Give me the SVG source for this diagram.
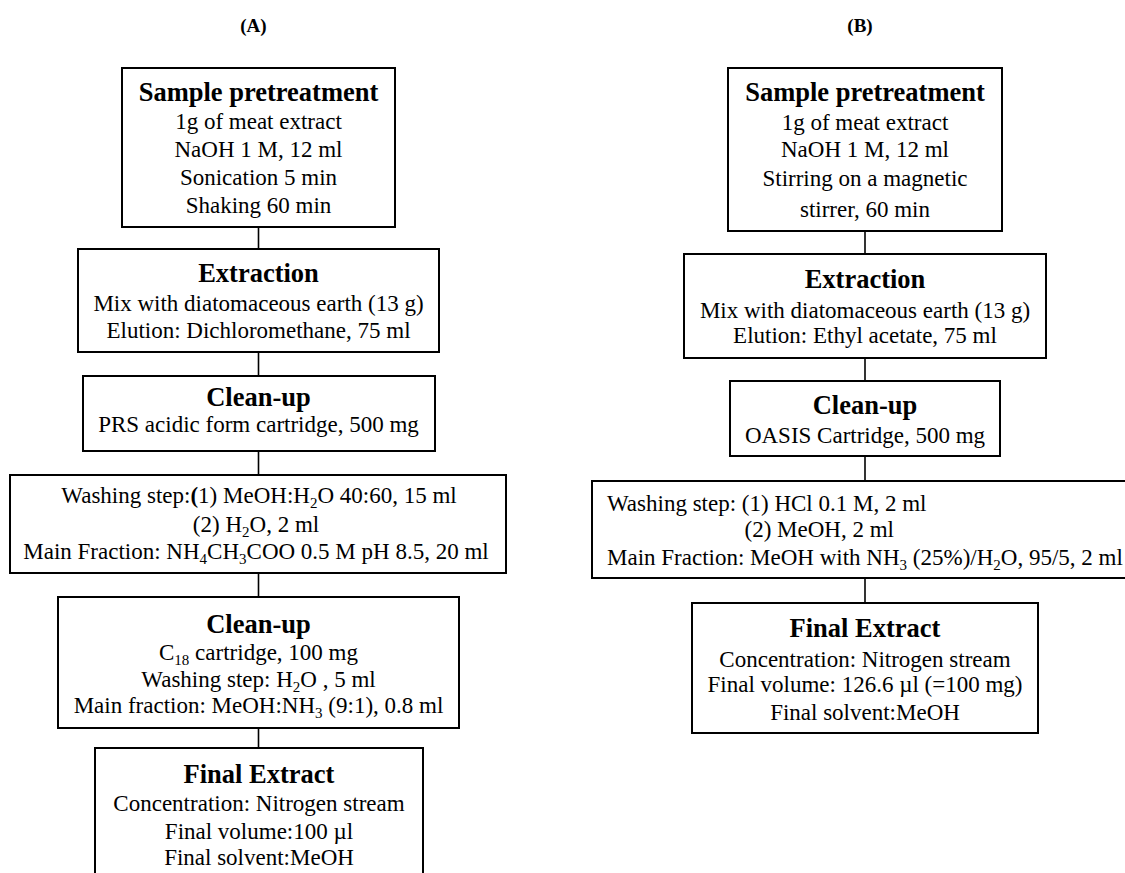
<svg xmlns="http://www.w3.org/2000/svg" width="1125" height="873" viewBox="0 0 1125 873">
<style>
text{font-family:"Liberation Serif","Times New Roman",serif;fill:#000}
.t{font-size:26.5px;font-weight:bold;text-anchor:middle}
.b{font-size:23px;text-anchor:middle}
.l{font-size:23px}
.h{font-size:19px;font-weight:bold;text-anchor:middle}
.s{font-size:15px}
.box{fill:#fff;stroke:#000;stroke-width:2}
.c{stroke:#000;stroke-width:1.6;fill:none}
</style>
<rect width="1125" height="873" fill="#fff"/>
<text class="h" x="253.5" y="32">(A)</text>
<text class="h" x="860" y="32">(B)</text>
<g id="connectors">
<line class="c" x1="258.5" y1="227" x2="258.5" y2="249"/>
<line class="c" x1="258.5" y1="352" x2="258.5" y2="376"/>
<line class="c" x1="258.5" y1="451" x2="258.5" y2="475"/>
<line class="c" x1="258.5" y1="573" x2="258.5" y2="597"/>
<line class="c" x1="258.5" y1="728" x2="258.5" y2="748"/>
<line class="c" x1="865" y1="231" x2="865" y2="254"/>
<line class="c" x1="865" y1="358" x2="865" y2="381"/>
<line class="c" x1="865" y1="456" x2="865" y2="481"/>
<line class="c" x1="865" y1="578" x2="865" y2="603"/>
</g>
<g id="a1">
<rect class="box" x="122" y="68" width="273" height="159"/>
<text class="t" x="258.5" y="101">Sample pretreatment</text>
<text class="b" x="258.5" y="129">1g of meat extract</text>
<text class="b" x="258.5" y="157">NaOH 1 M, 12 ml</text>
<text class="b" x="258.5" y="185">Sonication 5 min</text>
<text class="b" x="258.5" y="213">Shaking 60 min</text>
</g>
<g id="a2">
<rect class="box" x="78" y="249" width="361" height="103"/>
<text class="t" x="258.5" y="282">Extraction</text>
<text class="b" x="258.5" y="311">Mix with diatomaceous earth (13 g)</text>
<text class="b" x="258.5" y="338">Elution: Dichloromethane, 75 ml</text>
</g>
<g id="a3">
<rect class="box" x="83" y="376" width="352" height="75"/>
<text class="t" x="258.5" y="406">Clean-up</text>
<text class="b" x="258.5" y="432">PRS acidic form cartridge, 500 mg</text>
</g>
<g id="a4">
<rect class="box" x="10" y="475" width="496" height="98"/>
<text class="b" x="259" y="503">Washing step:<tspan font-weight="bold">(</tspan>1) MeOH:H<tspan class="s" dy="5">2</tspan><tspan dy="-5">O 40:60, 15 ml</tspan></text>
<text class="b" x="256" y="532">(2) H<tspan class="s" dy="5">2</tspan><tspan dy="-5">O, 2 ml</tspan></text>
<text class="b" x="256" y="559">Main Fraction: NH<tspan class="s" dy="5">4</tspan><tspan dy="-5">CH</tspan><tspan class="s" dy="5">3</tspan><tspan dy="-5">COO 0.5 M pH 8.5, 20 ml</tspan></text>
</g>
<g id="a5">
<rect class="box" x="58" y="597" width="401" height="131"/>
<text class="t" x="258.5" y="633">Clean-up</text>
<text class="b" x="258.5" y="660">C<tspan class="s" dy="5">18</tspan><tspan dy="-5"> cartridge, 100 mg</tspan></text>
<text class="b" x="258.5" y="687">Washing step: H<tspan class="s" dy="5">2</tspan><tspan dy="-5">O , 5 ml</tspan></text>
<text class="b" x="258.5" y="713">Main fraction: MeOH:NH<tspan class="s" dy="5">3</tspan><tspan dy="-5"> (9:1), 0.8 ml</tspan></text>
</g>
<g id="a6">
<rect class="box" x="95" y="748" width="328" height="140"/>
<text class="t" x="259" y="783">Final Extract</text>
<text class="b" x="259" y="811">Concentration: Nitrogen stream</text>
<text class="b" x="259" y="839">Final volume:100 µl</text>
<text class="b" x="259" y="865">Final solvent:MeOH</text>
</g>
<g id="b1">
<rect class="box" x="728" y="68" width="274" height="163"/>
<text class="t" x="865" y="101">Sample pretreatment</text>
<text class="b" x="865" y="130">1g of meat extract</text>
<text class="b" x="865" y="157">NaOH 1 M, 12 ml</text>
<text class="b" x="865" y="186">Stirring on a magnetic</text>
<text class="b" x="865" y="217">stirrer, 60 min</text>
</g>
<g id="b2">
<rect class="box" x="684" y="254" width="362" height="104"/>
<text class="t" x="865" y="288">Extraction</text>
<text class="b" x="865" y="318">Mix with diatomaceous earth (13 g)</text>
<text class="b" x="865" y="343">Elution: Ethyl acetate, 75 ml</text>
</g>
<g id="b3">
<rect class="box" x="730" y="381" width="270" height="75"/>
<text class="t" x="865" y="414">Clean-up</text>
<text class="b" x="865" y="443">OASIS Cartridge, 500 mg</text>
</g>
<g id="b4">
<rect class="box" x="592" y="481" width="545" height="97"/>
<text class="l" x="607" y="511">Washing step: (1) HCl 0.1 M, 2 ml</text>
<text class="l" x="744.5" y="537">(2) MeOH, 2 ml</text>
<text class="l" x="607" y="565">Main Fraction: MeOH with NH<tspan class="s" dy="5">3</tspan><tspan dy="-5"> (25%)/H</tspan><tspan class="s" dy="5">2</tspan><tspan dy="-5">O, 95/5, 2 ml</tspan></text>
</g>
<g id="b5">
<rect class="box" x="692" y="603" width="346" height="130"/>
<text class="t" x="865" y="637">Final Extract</text>
<text class="b" x="865" y="667">Concentration: Nitrogen stream</text>
<text class="b" x="865" y="692">Final volume: 126.6 µl (=100 mg)</text>
<text class="b" x="865" y="720">Final solvent:MeOH</text>
</g>
</svg>
